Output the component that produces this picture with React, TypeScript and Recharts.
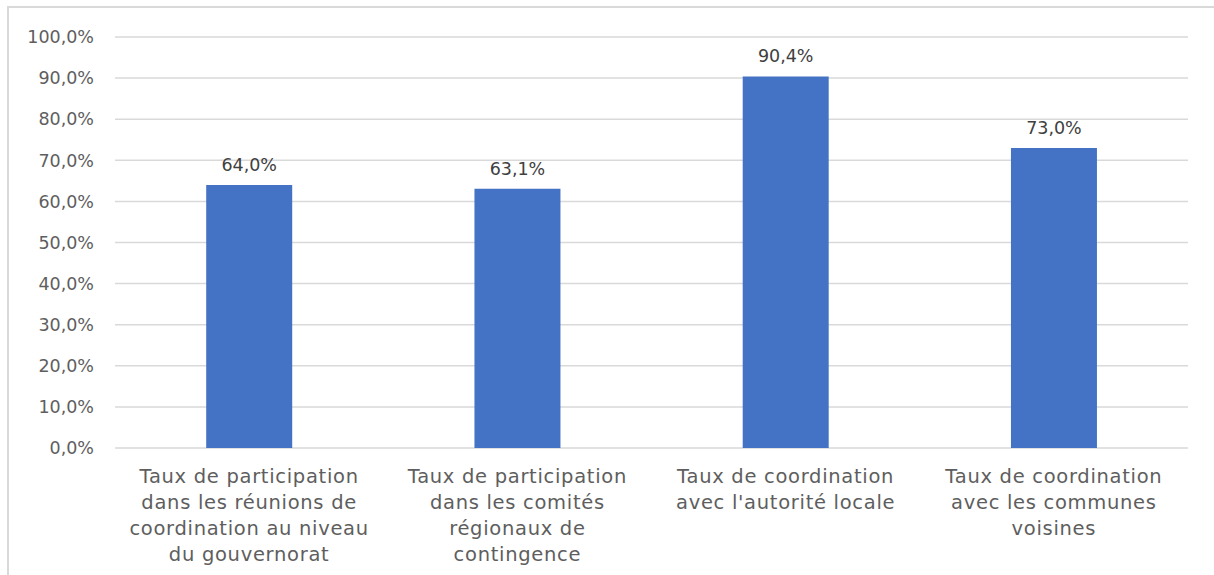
import { Bar, BarChart, CartesianGrid, LabelList, XAxis, YAxis } from 'recharts';

const categoryLines: string[][] = [
  ['Taux de participation', 'dans les réunions de', 'coordination au niveau', 'du gouvernorat'],
  ['Taux de participation', 'dans les comités', 'régionaux de', 'contingence'],
  ['Taux de coordination', "avec l'autorité locale"],
  ['Taux de coordination', 'avec les communes', 'voisines'],
];
const rates = [64.0, 63.1, 90.4, 73.0];
const yTicks = [0, 10, 20, 30, 40, 50, 60, 70, 80, 90, 100];

const FONT = "'DejaVu Sans', sans-serif";
const pct = (value: number) => `${value.toFixed(1).replace('.', ',')}%`;

const data = categoryLines.map((lines, index) => ({ name: String(index), value: rates[index] }));

function CategoryTick(props: { x?: number; y?: number; payload?: { value: string } }) {
  const { x = 0, y = 0, payload } = props;
  const lines = categoryLines[Number(payload?.value ?? 0)] ?? [];
  return (
    <text x={x} y={y} textAnchor="middle" fill="#5e5e5e" fontSize={19.5} letterSpacing={0.7} fontFamily={FONT}>
      {lines.map((line, i) => (
        <tspan key={i} x={x} dy={i === 0 ? 33 : 26}>
          {line}
        </tspan>
      ))}
    </text>
  );
}

export default function App() {
  return (
    <div style={{ position: 'fixed', left: 0, top: 0, width: 1214, height: 575, background: '#fff', overflow: 'hidden' }}>
      <div
        style={{
          position: 'absolute',
          left: 7,
          top: 6,
          width: 1300,
          height: 700,
          border: '2px solid #d9d9d9',
          boxSizing: 'border-box',
        }}
      />
      <BarChart
        width={1214}
        height={575}
        data={data}
        margin={{ top: 37, right: 26, bottom: 0, left: 0 }}
        barCategoryGap="34%"
        style={{ position: 'absolute', left: 0, top: 0 }}
      >
        <CartesianGrid vertical={false} stroke="#d9d9d9" strokeWidth={1.5} />
        <XAxis
          dataKey="name"
          axisLine={false}
          tickLine={false}
          tickSize={0}
          height={127}
          interval={0}
          tick={<CategoryTick />}
        />
        <YAxis
          domain={[0, 100]}
          ticks={yTicks}
          width={115}
          axisLine={false}
          tickLine={false}
          tickSize={0}
          tickMargin={21}
          tickFormatter={pct}
          tick={{ fill: '#5e5e5e', fontSize: 17.5, fontFamily: FONT }}
        />
        <Bar dataKey="value" fill="#4472c4" isAnimationActive={false}>
          <LabelList
            dataKey="value"
            position="top"
            offset={14}
            formatter={(v: number) => pct(Number(v))}
            fill="#404040"
            fontSize={17.5}
            fontFamily={FONT}
          />
        </Bar>
      </BarChart>
    </div>
  );
}
